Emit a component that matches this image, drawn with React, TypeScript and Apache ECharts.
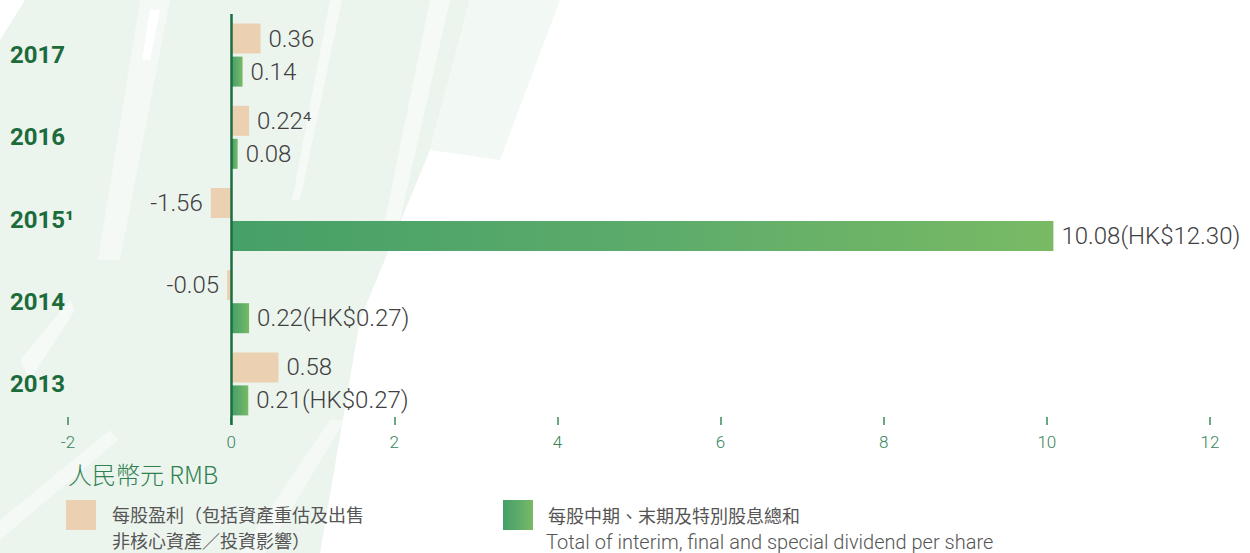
import React, { useEffect, useRef } from "react";
import * as echarts from "echarts";

// Categories bottom -> top
const years = ["2013", "2014", "2015", "2016", "2017"];
const yearLabels = ["2013", "2014", "2015¹", "2016", "2017"];

// EPS (incl. revaluation & disposal of non-core assets / investments)
// 2015 bar is drawn truncated in the original (value -1.56 shown as a short bar)
const epsBarValues = [0.58, -0.05, -0.25, 0.22, 0.36];
const epsLabels = ["0.58", "-0.05", "-1.56", "0.22⁴", "0.36"];

// Total dividend per share
const divValues = [0.21, 0.22, 10.08, 0.08, 0.14];
const divLabels = ["0.21(HK$0.27)", "0.22(HK$0.27)", "10.08(HK$12.30)", "0.08", "0.14"];

const xTicks = { min: -2, max: 12, interval: 2 };

const BEIGE = "#ecd0b2";
const greenGrad = () =>
  new echarts.graphic.LinearGradient(0, 0, 1, 0, [
    { offset: 0, color: "#46a067" },
    { offset: 0.5, color: "#5cab6b" },
    { offset: 1, color: "#79ba64" },
  ]);

export default function App() {
  const ref = useRef<HTMLDivElement>(null);
  useEffect(() => {
    const chart = echarts.init(ref.current!, null, { renderer: "svg" });
    const labelStyle = {
      show: true,
      color: "#404040",
      fontSize: 24,
      fontWeight: 300,
      fontFamily: "Roboto, 'Noto Sans', sans-serif",
      distance: 8,
    };
    const cjk = {
      fill: "#555555",
      fontSize: 18,
      verticalAlign: "middle",
      fontFamily: "'Noto Sans CJK TC', sans-serif",
    };
    chart.setOption({
      animation: false,
      backgroundColor: "#ffffff",
      grid: { left: 68, right: 40, top: 14, height: 411, containLabel: false },
      xAxis: {
        type: "value",
        min: xTicks.min,
        max: xTicks.max,
        interval: xTicks.interval,
        axisLine: { show: false },
        axisTick: { show: true, inside: true, length: 8, lineStyle: { color: "#3a8a5a", width: 1.5 } },
        splitLine: { show: false },
        axisLabel: {
          color: "#35855a",
          fontSize: 17,
          fontWeight: 300,
          margin: 8,
          fontFamily: "Roboto, 'Noto Sans', sans-serif",
        },
      },
      yAxis: {
        type: "category",
        data: years,
        axisLine: { show: false },
        axisTick: { show: false },
        axisLabel: {
          align: "left",
          margin: 58,
          color: "#1c6b3b",
          fontSize: 24,
          fontWeight: "bold",
          fontFamily: "Roboto, 'Noto Sans', sans-serif",
          formatter: (v: string) => yearLabels[years.indexOf(v)],
        },
      },
      graphic: [
        {
          type: "group",
          z: -10,
          silent: true,
          children: [
            {
              type: "polygon",
              shape: { points: [[25, 0], [470, 0], [430, 150], [360, 320], [320, 553], [0, 553], [0, 40]] },
              style: { fill: "#ecf4ee" },
            },
            { type: "polygon", shape: { points: [[470, 0], [560, 0], [500, 160], [430, 150]] }, style: { fill: "#f2f8f3" } },
            { type: "polygon", shape: { points: [[140, 0], [170, 0], [120, 260], [98, 260]] }, style: { fill: "#ffffff", opacity: 0.45 } },
            { type: "polygon", shape: { points: [[150, 10], [160, 10], [150, 60], [142, 60]] }, style: { fill: "#ffffff", opacity: 0.9 } },
            { type: "polygon", shape: { points: [[330, 0], [342, 0], [300, 200], [292, 200]] }, style: { fill: "#ffffff", opacity: 0.5 } },
            { type: "polygon", shape: { points: [[430, 0], [450, 0], [400, 220], [385, 220]] }, style: { fill: "#ffffff", opacity: 0.5 } },
            { type: "polygon", shape: { points: [[20, 360], [70, 300], [75, 310], [30, 380]] }, style: { fill: "#ffffff", opacity: 0.5 } },
            { type: "polygon", shape: { points: [[0, 520], [110, 430], [118, 440], [0, 540]] }, style: { fill: "#ffffff", opacity: 0.45 } },
            { type: "polygon", shape: { points: [[240, 553], [330, 420], [345, 420], [265, 553]] }, style: { fill: "#ffffff", opacity: 0.45 } },
          ],
        },
        {
          type: "text",
          x: 68,
          y: 473,
          style: {
            text: "人民幣元 RMB",
            fill: "#2f8150",
            fontSize: 24,
            fontWeight: 300,
            verticalAlign: "middle",
            fontFamily: "'Noto Sans CJK TC', Roboto, sans-serif",
          },
        },
        { type: "rect", shape: { x: 66, y: 500, width: 30, height: 30 }, style: { fill: BEIGE } },
        { type: "text", x: 112, y: 514, style: { ...cjk, text: "每股盈利（包括資產重估及出售" } },
        { type: "text", x: 112, y: 540, style: { ...cjk, text: "非核心資產／投資影響）" } },
        {
          type: "rect",
          shape: { x: 503, y: 500, width: 30, height: 30 },
          style: { fill: greenGrad() },
        },
        { type: "text", x: 548, y: 515, style: { ...cjk, text: "每股中期、末期及特別股息總和" } },
        {
          type: "text",
          x: 546,
          y: 542,
          style: {
            text: "Total of interim, final and special dividend per share",
            fill: "#555555",
            fontSize: 20,
            lineHeight: 20,
            fontWeight: 300,
            verticalAlign: "middle",
            fontFamily: "Roboto, 'Noto Sans', sans-serif",
          },
        },
      ],
      series: [
        {
          name: "EPS",
          type: "bar",
          barWidth: 30,
          barGap: "10%",
          itemStyle: { color: BEIGE },
          data: epsBarValues.map((v, i) => ({
            value: v,
            label: { ...labelStyle, position: v < 0 ? "left" : "right", formatter: () => epsLabels[i] },
          })),
          markLine: {
            silent: true,
            symbol: "none",
            label: { show: false },
            lineStyle: { color: "#1d6e3f", width: 2.5, type: "solid" },
            data: [{ xAxis: 0 }],
            z: 10,
          },
        },
        {
          name: "Dividend",
          type: "bar",
          barWidth: 30,
          barGap: "10%",
          itemStyle: { color: greenGrad() },
          data: divValues.map((v, i) => ({
            value: v,
            label: { ...labelStyle, position: "right", formatter: () => divLabels[i] },
          })),
        },
      ],
    });
    return () => chart.dispose();
  }, []);
  return (
    <div
      ref={ref}
      style={{ position: "fixed", left: 0, top: 0, width: 1250, height: 553 }}
    />
  );
}
